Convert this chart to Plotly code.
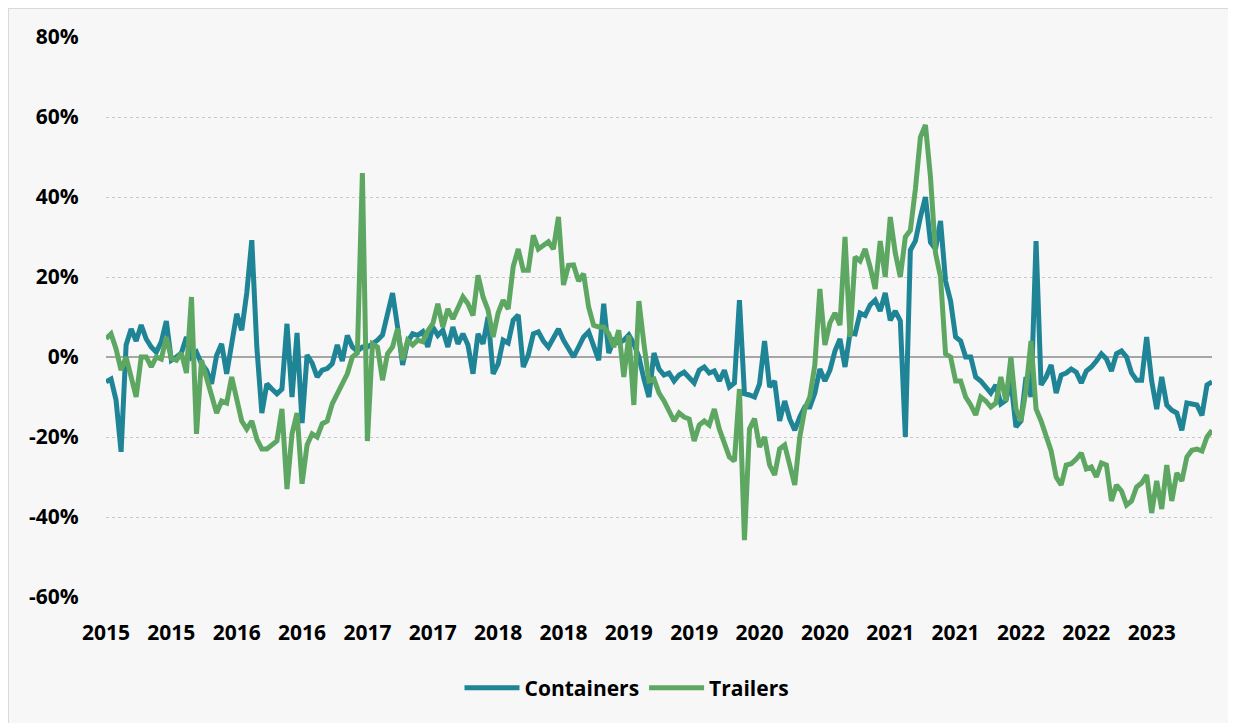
import plotly.graph_objects as go

# Two-week sampling of the weekly series (index in weeks from start)
containers = [
    -6.2, -5.5, -10.8, -23.7, 3, 7, 4, 8, 4.5, 2.5,
    1.2, 3.8, 9, -0.8, 0, 1, 5, 0, 1.2, -1.7,
    -3.3, -6.7, 0.4, 3.3, -4.2, 2.5, 10.8, 6.7, 16, 29.2,
    2.5, -14, -6.7, -8, -9.2, -8, 8.3, -10, 6, -16.5,
    0.5, -1.5, -5, -3.3, -2.9, -1.7, 3, -1, 5.4, 2.5,
    1.5, 2.5, 2.5, 3.3, 4.2, 5.5, 10.8, 16, 7.5, -2,
    3.8, 5.8, 5.4, 6.3, 2.5, 7.5, 5.4, 6.7, 2.5, 7.5,
    3.3, 5.8, 3, -4.2, 5.8, 3.3, 10, -4.2, -1.7, 4.2,
    3.5, 9.2, 10.5, -2.5, 0.5, 5.8, 6.3, 4, 2.5, 5,
    7, 4.2, 2, 0, 2.5, 5, 6.3, 3, -0.8, 13.3,
    1, 4.2, 3.5, 4.2, 5.5, 3.3, 0, -5.5, -10, 1,
    -3, -4.5, -4, -6, -4.5, -3.8, -5, -6.5, -3.3, -2.5,
    -4, -3.5, -6, -3.3, -7.5, -6.5, 14.2, -9.2, -9.5, -10,
    -6.7, 4, -7.5, -6, -16, -11, -15.5, -18.3, -15, -12.5,
    -12.5, -9, -3, -6, -3.3, 1.5, 4.5, -2.5, 6, 5.8,
    11, 10.4, 13, 14.2, 11.5, 16, 9.2, 11.5, 9, -20,
    26.7, 29, 35, 40, 28.7, 27, 34, 19, 14, 5,
    4, 0, 0, -5, -6, -7.5, -9, -7, -11.7, -10.8,
    -6, -17.5, -16, -5, -10, 29, -7, -5, -2, -9,
    -4.5, -4, -3, -3.8, -6.5, -3.5, -2.5, -1, 0.8, -0.5,
    -3.5, 0.8, 1.5, 0, -4, -5.8, -5.8, 5, -6, -13,
    -5, -12, -13.3, -14, -18.3, -11.5, -11.7, -12, -14.6, -7, -6.2,
]

trailers = [
    4.6, 5.8, 2, -3.3, 0, -5, -10, 0, 0, -2.5,
    0, -0.5, 5, -0.4, -0.8, 1, -4, 15, -19.2, -0.8,
    -5, -10, -14, -11, -11.5, -5, -10.8, -16, -18, -16,
    -20.5, -23, -23, -22, -21, -13, -33, -19.2, -14, -31.7,
    -22, -19.2, -20, -16.7, -16, -11.7, -9, -6.2, -4.2, 0,
    1, 46, -21, 3.3, 2.5, -5.8, 0.8, 2.5, 7.1, -0.8,
    4.2, 3, 4.2, 3.8, 6.5, 8.3, 13.3, 7.5, 12, 9.5,
    12, 15, 13.3, 10.4, 20.4, 15, 11.7, 5, 11, 14.2,
    12, 22.6, 27, 21.7, 21.7, 30.4, 27, 27.9, 28.8, 27,
    35, 18, 22.9, 23, 19, 20.8, 12.5, 7.9, 7.5, 7.5,
    5.8, 2.5, 6.7, -5, 5.4, -12, 14, 3.3, -6, -5.5,
    -9, -11, -13.5, -16, -14, -15, -15.5, -21, -17, -16,
    -17, -13, -18, -22, -25, -26, -8, -45.8, -18, -15.4,
    -22.5, -20, -27, -29.5, -23, -22, -27, -32, -20, -13,
    -10, -2, 17, 3, 8.5, 11, 8, 30, 5, 25,
    24, 27, 22.5, 17, 29, 20, 35, 26, 20, 30,
    31.7, 42, 55, 58, 45, 26, 20, 0.8, 0, -6,
    -6, -10, -12, -14.5, -10, -11, -12.5, -11.5, -5, -11,
    0, -13, -16, -8.3, 4, -13, -16, -20, -23.5, -30,
    -32, -27, -26.7, -25.5, -24, -28, -27.5, -30, -26.5, -27,
    -36, -32, -33.5, -37, -36, -32.5, -31.5, -29.5, -39, -31,
    -38, -27, -36, -29, -31, -25, -23.3, -23, -23.5, -20, -18.3,
]

x_tick_labels = ["2015", "2015", "2016", "2016", "2017", "2017", "2018", "2018",
                 "2019", "2019", "2020", "2020", "2021", "2021", "2022", "2022", "2023"]
y_ticks = [-60, -40, -20, 0, 20, 40, 60, 80]
y_tick_labels = ["-60%", "-40%", "-20%", "0%", "20%", "40%", "60%", "80%"]

weeks = [2 * i for i in range(len(containers))]
tick_weeks = [26 * k for k in range(len(x_tick_labels))]

TEAL = "#1E8496"
GREEN = "#5DA762"

fig = go.Figure()
fig.add_trace(go.Scatter(x=weeks, y=containers, mode="lines", name="Containers",
                         line=dict(color=TEAL, width=5)))
fig.add_trace(go.Scatter(x=weeks, y=trailers, mode="lines", name="Trailers",
                         line=dict(color=GREEN, width=5)))

# figure-pixel geometry (page has an 8px body margin)
W, H = 1236, 723
L, R, T, B = 98, 1204, 29, 589


def px_x(p):
    return (p - L) / (R - L)


def px_y(p):
    return (B - p) / (B - T)


fig.add_shape(type="rect", xref="paper", yref="paper",
              x0=px_x(0), x1=px_x(W + 20), y0=px_y(H + 20), y1=px_y(0),
              fillcolor="#F7F7F7", line=dict(color="#D9D9D9", width=2), layer="below")

FONT = dict(family="Open Sans", size=21, color="black", weight=700)

fig.update_layout(
    width=W, height=H,
    margin=dict(l=L, r=W - R, t=T, b=H - B, autoexpand=False),
    paper_bgcolor="#F7F7F7",
    plot_bgcolor="rgba(0,0,0,0)",
    font=FONT,
    showlegend=True,
    legend=dict(orientation="h", x=px_x(619), xanchor="center", y=px_y(680), yanchor="middle",
                font=FONT, bgcolor="rgba(0,0,0,0)", itemwidth=55, tracegroupgap=0),
    xaxis=dict(range=[0, 440], tickmode="array", tickvals=tick_weeks, ticktext=x_tick_labels,
               showgrid=False, zeroline=False, showline=False,
               ticks="outside", ticklen=17, tickcolor="rgba(0,0,0,0)"),
    yaxis=dict(range=[-60, 80], tickmode="array", tickvals=y_ticks, ticktext=y_tick_labels,
               showgrid=True, gridcolor="#C9C9C9", griddash="dot", gridwidth=1,
               zeroline=True, zerolinecolor="#A6A6A6", zerolinewidth=2,
               showline=False, ticks="outside", ticklen=22, tickcolor="rgba(0,0,0,0)"),
)

fig.write_html("out.html",
               post_script="document.documentElement.style.overflow='hidden';"
                           "document.body.style.overflow='hidden';")
